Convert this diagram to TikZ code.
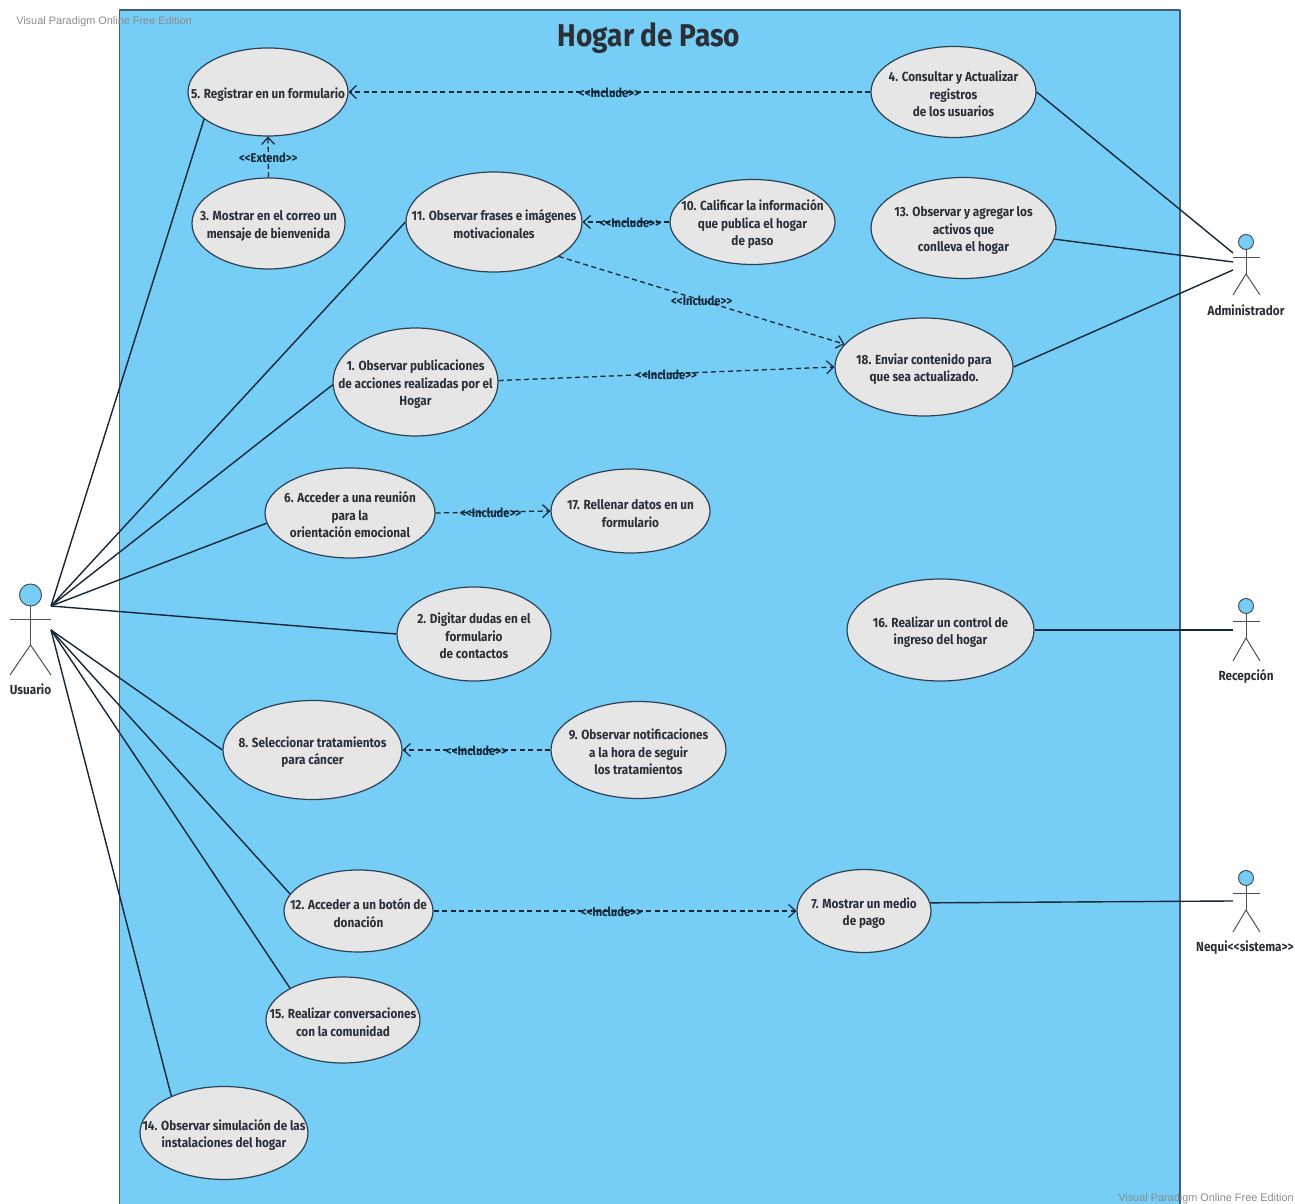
\documentclass[tikz,border=0pt]{standalone}
\usepackage{fontspec}
\newfontfamily\casefont{Fira Sans}[FakeStretch=0.89]
\newfontfamily\markfont{Liberation Sans}
\usetikzlibrary{shapes.geometric,arrows.meta}
\definecolor{framefill}{HTML}{76CDF5}
\definecolor{frameline}{HTML}{3F5F7A}
\definecolor{casefill}{HTML}{E6E6E6}
\definecolor{edgeline}{HTML}{2C4254}
\definecolor{linkline}{HTML}{14283A}
\definecolor{textcol}{HTML}{2B3036}
\definecolor{stickline}{HTML}{4A5259}
\tikzset{
  usecase/.style={ellipse,draw=edgeline,fill=casefill,line width=1.2bp,text width=190bp,inner xsep=-60bp,inner ysep=-12bp,
    align=flush center,text=textcol,font=\fontsize{13.2bp}{17.4bp}\casefont\bfseries,
    execute at begin node={\rule{0pt}{15bp}}},
  assoc/.style={linkline,line width=1.4bp},
  dep/.style={linkline,line width=1.3bp,dashed,dash pattern=on 5bp off 3.5bp,-{Straight Barb[length=7bp,width=13bp,line width=1.2bp]}},
  deplabel/.style={text=linkline,inner sep=0bp,yshift=-1bp,font=\fontsize{12.6bp}{14bp}\casefont\bfseries},
  stick/.style={draw=stickline,line width=1bp},
  actorlabel/.style={text=textcol,inner sep=0bp,font=\fontsize{13.2bp}{15bp}\casefont\bfseries},
  watermark/.style={text=black!45,inner sep=0bp,font=\fontsize{10.9bp}{13bp}\markfont},
}
\begin{document}
\begin{tikzpicture}[>=latex,line join=bevel]
\useasboundingbox (0bp,0bp) rectangle (1295bp,1204bp);
%%
\node (frame_hogar) at (649.75bp,592bp) [draw=frameline,fill=framefill,line width=1.5bp,minimum width=1060.5bp,minimum height=1204bp] {};
\node (title_hogar) at (649bp,1166bp) [inner sep=0bp,text=textcol,font=\fontsize{31.5bp}{34bp}\casefont\bfseries] {Hogar de Paso};
%%
  \node (node_5) at (268bp,1112bp) [usecase,minimum width=160bp,minimum height=88bp] {5. Registrar en un formulario};
  \node (node_3) at (268.5bp,980.5bp) [usecase,minimum width=153bp,minimum height=91bp] {3. Mostrar en el correo un\\mensaje de bienvenida};
  \node (node_4) at (953.5bp,1112bp) [usecase,minimum width=165bp,minimum height=91bp] {4. Consultar y Actualizar\\registros\\de los usuarios};
  \node (node_11) at (494bp,982bp) [usecase,minimum width=176bp,minimum height=100bp] {11. Observar frases e imágenes\\motivacionales};
  \node (node_10) at (752.5bp,982bp) [usecase,minimum width=165bp,minimum height=85bp] {10. Calificar la información\\que publica el hogar\\de paso};
  \node (node_13) at (963.5bp,976bp) [usecase,minimum width=185bp,minimum height=101bp] {13. Observar y agregar los\\activos que\\conlleva el hogar};
  \node (node_18) at (924bp,837bp) [usecase,minimum width=178bp,minimum height=98bp] {18. Enviar contenido para\\que sea actualizado.};
  \node (node_1) at (415.5bp,822bp) [usecase,minimum width=165bp,minimum height=108bp] {1. Observar publicaciones\\de acciones realizadas por el\\Hogar};
  \node (node_6) at (350bp,691bp) [usecase,minimum width=170bp,minimum height=90bp] {6. Acceder a una reunión\\para la\\orientación emocional};
  \node (node_17) at (630.5bp,693bp) [usecase,minimum width=159bp,minimum height=84bp] {17. Rellenar datos en un\\formulario};
  \node (node_2) at (474bp,570bp) [usecase,minimum width=154bp,minimum height=94bp] {2. Digitar dudas en el\\formulario\\de contactos};
  \node (node_16) at (940.5bp,574bp) [usecase,minimum width=187bp,minimum height=102bp] {16. Realizar un control de\\ingreso del hogar};
  \node (node_8) at (312.5bp,454bp) [usecase,minimum width=179bp,minimum height=99bp] {8. Seleccionar tratamientos\\para cáncer};
  \node (node_9) at (638.5bp,454bp) [usecase,minimum width=175bp,minimum height=97bp] {9. Observar notificaciones\\a la hora de seguir\\los tratamientos};
  \node (node_12) at (358.5bp,293bp) [usecase,minimum width=149bp,minimum height=82bp] {12. Acceder a un botón de\\donación};
  \node (node_7) at (864bp,293bp) [usecase,minimum width=134bp,minimum height=83bp] {7. Mostrar un medio\\de pago};
  \node (node_15) at (343bp,184bp) [usecase,minimum width=154bp,minimum height=86bp] {15. Realizar conversaciones\\con la comunidad};
  \node (node_14) at (224bp,71bp) [usecase,minimum width=168bp,minimum height=93bp] {14. Observar simulación de las\\instalaciones del hogar};
%%
  \node (head_usuario) at (30.5bp,609bp) [circle,stick,fill=framefill,minimum size=22bp,inner sep=0bp] {};
  \coordinate (hip_usuario) at (30.5bp,559bp);
  \draw [stick] (head_usuario) -- (hip_usuario);
  \draw [stick] (10bp,584bp) -- (51bp,584bp);
  \draw [stick] (10bp,529bp) -- (hip_usuario) -- (51bp,529bp);
  \node (label_usuario) at (30.5bp,515bp) [actorlabel] {Usuario};
  \coordinate (usuario_up) at (51bp,598bp);
  \coordinate (usuario_down) at (51bp,574bp);
%
  \node (head_admin) at (1246bp,962bp) [circle,stick,fill=framefill,minimum size=15bp,inner sep=0bp] {};
  \coordinate (hip_admin) at (1246bp,930bp);
  \draw [stick] (head_admin) -- (hip_admin);
  \draw [stick] (1233bp,946bp) -- (1260bp,946bp);
  \draw [stick] (1233bp,909bp) -- (hip_admin) -- (1260bp,909bp);
  \node (label_admin) at (1246bp,894bp) [actorlabel] {Administrador};
  \coordinate (admin_a) at (1233bp,951bp);
  \coordinate (admin_b) at (1233bp,942bp);
  \coordinate (admin_c) at (1233bp,934bp);
%
  \node (head_recepcion) at (1246bp,598bp) [circle,stick,fill=framefill,minimum size=15bp,inner sep=0bp] {};
  \coordinate (hip_recepcion) at (1246bp,566bp);
  \draw [stick] (head_recepcion) -- (hip_recepcion);
  \draw [stick] (1233bp,582bp) -- (1260bp,582bp);
  \draw [stick] (1233bp,543bp) -- (hip_recepcion) -- (1260bp,543bp);
  \node (label_recepcion) at (1246bp,528bp) [actorlabel] {Recepción};
  \coordinate (recepcion_a) at (1233bp,574bp);
%
  \node (head_nequi) at (1246bp,326bp) [circle,stick,fill=framefill,minimum size=15bp,inner sep=0bp] {};
  \coordinate (hip_nequi) at (1246bp,294bp);
  \draw [stick] (head_nequi) -- (hip_nequi);
  \draw [stick] (1233bp,310bp) -- (1260bp,310bp);
  \draw [stick] (1233bp,272bp) -- (hip_nequi) -- (1260bp,272bp);
  \node (label_nequi) at (1245bp,256bp) [actorlabel] {Nequi<<sistema>>};
  \coordinate (nequi_a) at (1233bp,303bp);
%%
  \draw [assoc] (usuario_up) -- (node_5.203);
  \draw [assoc] (usuario_up) -- (node_11.180);
  \draw [assoc] (usuario_up) -- (node_1.182);
  \draw [assoc] (usuario_up) -- (node_6.187);
  \draw [assoc] (usuario_up) -- (node_2.180);
  \draw [assoc] (usuario_down) -- (node_8.180);
  \draw [assoc] (usuario_down) -- (node_12.166);
  \draw [assoc] (usuario_down) -- (node_15.149);
  \draw [assoc] (usuario_down) -- (node_14.145);
  \draw [assoc] (node_4.0) -- (admin_a);
  \draw [assoc] (node_13.-7) -- (admin_b);
  \draw [assoc] (node_18.0) -- (admin_c);
  \draw [assoc] (node_16.0) -- (recepcion_a);
  \draw [assoc] (node_7.7) -- (nequi_a);
%%
  \draw [dep] (node_4.180) -- node [deplabel] {<<Include>>} (node_5.0);
  \draw [dep] (node_3.90) -- node [deplabel] {<<Extend>>} (node_5.270);
  \draw [dep] (node_10.180) -- node [deplabel,pos=.45] {<<Include>>} (node_11.0);
  \draw [dep] (node_11.-28) -- node [deplabel] {<<Include>>} (node_18.164);
  \draw [dep] (node_1.1) -- node [deplabel] {<<Include>>} (node_18.180);
  \draw [dep] (node_6.0) -- node [deplabel,pos=.48] {<<Include>>} (node_17.180);
  \draw [dep] (node_9.180) -- node [deplabel] {<<Include>>} (node_8.0);
  \draw [dep] (node_12.0) -- node [deplabel,pos=.49] {<<Include>>} (node_7.180);
%%
  \node (mark_top) at (104bp,1182bp) [watermark] {Visual Paradigm Online Free Edition};
  \node (mark_bottom) at (1206bp,5.5bp) [watermark] {Visual Paradigm Online Free Edition};
%
\end{tikzpicture}
\end{document}
